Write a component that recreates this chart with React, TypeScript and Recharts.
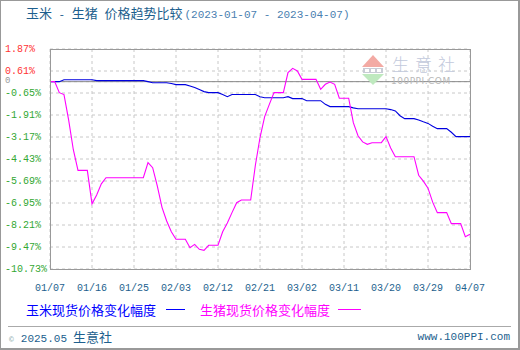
import { LineChart, Line, XAxis, YAxis, CartesianGrid, ReferenceLine } from 'recharts';

// 玉米 / 生猪 现货价格变化幅度 (%), x = days since 2023-01-07
const cornDays = [0, 2, 3, 9, 10, 20, 21, 22, 25, 26, 27, 29, 30, 31, 32, 33, 34, 36, 37, 38, 39, 44, 45, 46, 50, 51, 52, 54, 55, 58, 59, 60, 64, 65, 66, 72, 73, 74, 75, 76, 78, 79, 80, 81, 82, 83, 85, 86, 87, 90];
const cornPct = [0, 0, 0.11, 0.11, 0.06, 0.06, 0, -0.06, -0.06, -0.11, -0.17, -0.17, -0.25, -0.34, -0.45, -0.57, -0.63, -0.63, -0.74, -0.86, -0.74, -0.74, -0.86, -0.92, -0.92, -0.86, -0.97, -0.97, -1.09, -1.09, -1.3, -1.43, -1.43, -1.5, -1.55, -1.55, -1.6, -1.68, -1.95, -2.12, -2.12, -2.2, -2.3, -2.39, -2.55, -2.69, -2.69, -2.9, -3.15, -3.15];

const hogDays = [0, 1, 2, 3, 4, 5, 6, 8, 9, 10, 11, 12, 20, 21, 22, 23, 24, 25, 26, 27, 29, 30, 31, 32, 33, 34, 36, 37, 38, 39, 40, 41, 43, 44, 45, 46, 47, 48, 50, 51, 52, 53, 54, 57, 58, 59, 60, 61, 62, 64, 65, 66, 67, 68, 69, 71, 72, 73, 74, 78, 79, 80, 81, 82, 83, 85, 86, 88, 89, 90];
const hogPct = [0, 0, -0.63, -0.74, -2.2, -3.9, -5.08, -5.08, -7.0, -6.49, -5.85, -5.5, -5.5, -4.64, -4.93, -5.98, -7.2, -7.98, -8.6, -9.03, -9.03, -9.51, -9.32, -9.6, -9.66, -9.37, -9.37, -8.6, -8.1, -7.5, -6.93, -6.78, -6.78, -4.8, -3.2, -2.0, -1.3, -0.63, -0.63, 0.52, 0.76, 0.61, 0.13, 0.13, -0.44, -0.15, -0.02, -0.15, -0.95, -0.95, -2.35, -3.1, -3.45, -3.59, -3.5, -3.49, -3.15, -3.8, -4.3, -4.3, -5.36, -5.7, -6.1, -6.9, -7.5, -7.5, -8.13, -8.13, -8.88, -8.74];

const xTicks = [0, 9, 18, 27, 36, 45, 54, 63, 72, 81, 90];
const xLabels = ['01/07', '01/16', '01/25', '02/03', '02/12', '02/21', '03/02', '03/11', '03/20', '03/29', '04/07'];
const yTicks = [1.87, 0.61, 0, -0.65, -1.91, -3.17, -4.43, -5.69, -6.95, -8.21, -9.47, -10.73];

const cornData = cornDays.map((d, i) => ({ day: d, pct: cornPct[i] }));
const hogData = hogDays.map((d, i) => ({ day: d, pct: hogPct[i] }));

const mono = "'Liberation Mono', 'DejaVu Sans Mono', monospace";
const cjk = "'Noto Sans CJK SC', sans-serif";
const textBlue = '#1d5f8e';

const YTick = ({ y, payload }: any) => {
  const v = payload.value;
  if (v === 0) {
    return (
      <text x={5} y={y - 1} fontSize={9} fill="#999" fontFamily={mono} dominantBaseline="middle">0</text>
    );
  }
  return (
    <text x={5} y={y} fontSize={10} fill={v > 0 ? '#ff3333' : '#33a833'} fontFamily={mono} dominantBaseline="middle">
      {v.toFixed(2)}%
    </text>
  );
};

export default function App() {
  return (
    <div style={{ position: 'absolute', left: 0, top: 0, width: 520, height: 350, background: '#fff', overflow: 'hidden' }}>
      <div style={{ position: 'absolute', left: 26, top: 4, whiteSpace: 'pre', color: textBlue, fontSize: 13, fontFamily: cjk, lineHeight: '18px' }}>
        玉米<span style={{ fontFamily: mono, fontSize: 11 }}> - </span>生猪<span style={{ fontFamily: mono, fontSize: 11 }}> </span>价格趋势比较
        <span style={{ fontFamily: mono, fontSize: 11, color: '#4a80b0', marginLeft: 2 }}>(2023-01-07 - 2023-04-07)</span>
      </div>

      <div style={{ position: 'absolute', left: 0, top: 0 }}>
        <LineChart width={520} height={350} margin={{ top: 49, right: 50, bottom: 61, left: 0 }}>
          <CartesianGrid stroke="#c8c8c8" strokeDasharray="3 3" />
          <XAxis
            dataKey="day"
            type="number"
            domain={[0, 90]}
            ticks={xTicks}
            height={20}
            axisLine={false}
            tickLine={false}
            tickMargin={9}
            tickFormatter={(v: number) => xLabels[xTicks.indexOf(v)]}
            tick={{ fontSize: 10, fill: textBlue, fontFamily: mono }}
          />
          <YAxis
            type="number"
            domain={[-10.73, 1.87]}
            ticks={yTicks}
            width={50}
            axisLine={false}
            tickLine={false}
            interval={0}
            tick={<YTick />}
          />
          <ReferenceLine y={0} stroke="#8a8a8a" strokeWidth={1} />
          <Line data={cornData} dataKey="pct" type="linear" stroke="#0000e0" strokeWidth={1.1} dot={false} isAnimationActive={false} />
          <Line data={hogData} dataKey="pct" type="linear" stroke="#ff00ff" strokeWidth={1.1} dot={false} isAnimationActive={false} />
        </LineChart>
      </div>

      {/* plot frame */}
      <div style={{ position: 'absolute', left: 50, top: 49, width: 421, height: 221, border: '1px solid #999', boxSizing: 'border-box', pointerEvents: 'none' }} />

      {/* watermark */}
      <svg style={{ position: 'absolute', left: 360, top: 53 }} width={26} height={34}>
        <polygon points="13,2 2,14 24,14" fill="#f3aaa4" />
        <rect x={3} y={15} width={20} height={5} fill="#c9ccd6" />
        <rect x={5} y={16} width={4} height={3} fill="#fff" />
        <rect x={11} y={16} width={4} height={3} fill="#fff" />
        <rect x={17} y={16} width={4} height={3} fill="#fff" />
        <polygon points="2,21 24,21 13,32" fill="#bfe9bf" />
      </svg>
      <div style={{ position: 'absolute', left: 392, top: 54, fontSize: 17, letterSpacing: 6, color: '#c2c9dc', fontFamily: cjk, fontWeight: 300, lineHeight: '20px', whiteSpace: 'nowrap' }}>生意社</div>
      <div style={{ position: 'absolute', left: 391, top: 76, fontSize: 9, letterSpacing: 0.5, color: '#b8b8b8', fontFamily: 'DejaVu Sans, sans-serif', lineHeight: '10px', whiteSpace: 'nowrap' }}>100PPI.COM</div>

      {/* legend */}
      <div style={{ position: 'absolute', left: 26, top: 301, fontSize: 13, fontFamily: cjk, lineHeight: '18px', whiteSpace: 'nowrap', color: '#0000ff' }}>
        玉米现货价格变化幅度
      </div>
      <div style={{ position: 'absolute', left: 166, top: 309, width: 19, height: 1, background: '#0000ff' }} />
      <div style={{ position: 'absolute', left: 200, top: 301, fontSize: 13, fontFamily: cjk, lineHeight: '18px', whiteSpace: 'nowrap', color: '#ff00ff' }}>
        生猪现货价格变化幅度
      </div>
      <div style={{ position: 'absolute', left: 338, top: 309, width: 23, height: 1, background: '#ff00ff' }} />

      {/* footer */}
      <div style={{ position: 'absolute', left: 8, top: 326, width: 503, height: 1, background: '#aaa' }} />
      <div style={{ position: 'absolute', left: 9, top: 328, whiteSpace: 'nowrap', color: textBlue, lineHeight: '18px' }}>
        <span style={{ fontSize: 8, color: '#8aa', fontFamily: mono }}>©</span>
        <span style={{ fontSize: 11, fontFamily: mono, marginLeft: 7 }}>2025.05</span>
        <span style={{ fontSize: 13, fontFamily: cjk, marginLeft: 6 }}>生意社</span>
      </div>
      <div style={{ position: 'absolute', right: 10, top: 328, whiteSpace: 'nowrap', color: textBlue, fontSize: 11, fontFamily: mono, lineHeight: '18px' }}>
        www.100PPI.com
      </div>

      {/* outer border */}
      <div style={{ position: 'absolute', left: 0, top: 0, width: 520, height: 350, boxSizing: 'border-box', borderTop: '1px solid #999', borderLeft: '1px solid #999', borderRight: '2px solid #999', borderBottom: '2px solid #999', pointerEvents: 'none' }} />
    </div>
  );
}
